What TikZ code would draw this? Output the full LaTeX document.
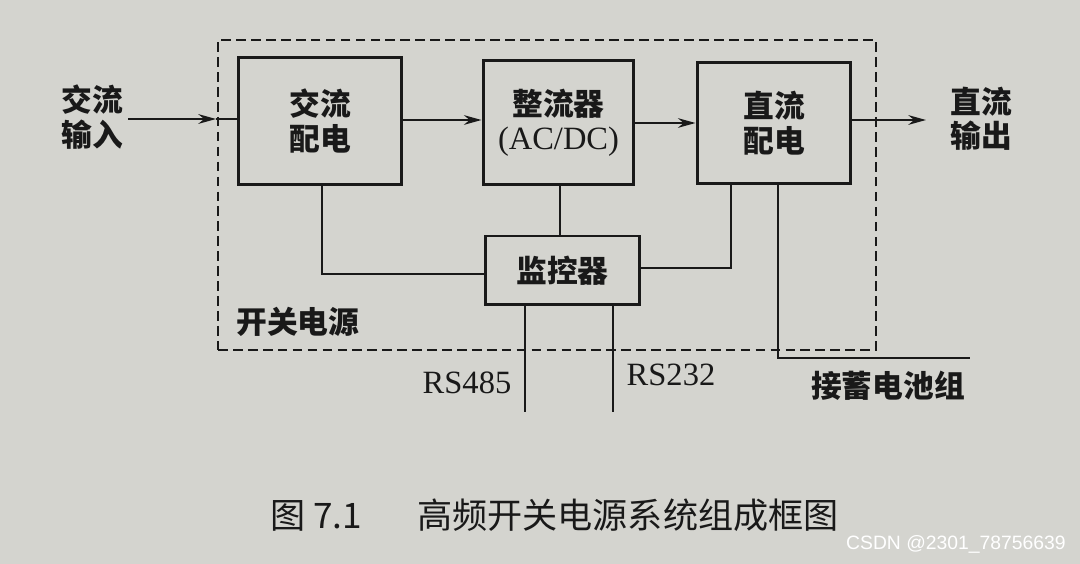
\documentclass[tikz,border=0pt]{standalone}
\usepackage{fontspec}
\setmainfont{Liberation Serif}
\newfontfamily\cjk{Noto Sans CJK SC}
\newfontfamily\wmfont{Liberation Sans}
\usetikzlibrary{arrows.meta}
\definecolor{paper}{RGB}{212,212,207}
\definecolor{ink}{RGB}{25,25,25}
\begin{document}
\begin{tikzpicture}[x=0.02cm,y=-0.02cm,
  blk/.style={draw=ink, line width=1.7pt, inner sep=0pt, align=center,
    font=\cjk\bfseries\fontsize{17.5pt}{19.6pt}\selectfont, text=ink},
  lbl/.style={inner sep=0pt, align=center,
    font=\cjk\bfseries\fontsize{17.5pt}{19.6pt}\selectfont, text=ink},
  lat/.style={inner sep=0pt, font=\fontsize{18.5pt}{20pt}\selectfont, text=ink},
  dashbox/.style={draw=ink, line width=1.1pt, dash pattern=on 5.5pt off 3pt, inner sep=0pt},
  wire/.style={draw=ink, line width=1.2pt},
  arr/.style={wire, -{Stealth[length=10pt,width=5.5pt]}}]
\useasboundingbox (0,0) rectangle (1080,564);
\fill[paper] (0,0) rectangle (1080,564);

% dashed enclosure
\node[dashbox, minimum width=13.16cm, minimum height=6.2cm] (sw) at (547,195) {};
\node[lbl, anchor=west] (swl) at (236,322) {开关电源};

% blocks
\node[blk, minimum width=3.28cm, minimum height=2.56cm] (acpd) at (320,121) {交流\\配电};
\node[blk, minimum width=3.02cm, minimum height=2.5cm] (rect) at (558.5,122.5)
  {整流器\\{\fontspec{Liberation Serif}\mdseries\fontsize{18.5pt}{20pt}\selectfont (AC/DC)}};
\node[blk, minimum width=3.08cm, minimum height=2.44cm] (dcpd) at (774,123) {直流\\配电};
\node[blk, minimum width=3.1cm, minimum height=1.38cm] (mon) at (562.5,270.5) {监控器};

% outside labels
\node[lbl] (acin) at (92,117) {交流\\输入};
\node[lbl] (dcout) at (981,119) {直流\\输出};
\node[lat] (rs485) at (467,383) {RS485};
\node[lat] (rs232) at (671,375) {RS232};
\node[lbl] (batt) at (888,386) {接蓄电池组};

% coordinates for free ends
\coordinate (inedge) at (216,119);
\coordinate (outend) at (926,120);
\coordinate (bt) at (970,358);
\coordinate (p485) at (525,412);
\coordinate (p232) at (613,412);

% main flow
\draw[arr] ([xshift=0.1cm]acin.east |- inedge) -- (inedge);
\draw[wire] (inedge) -- (acpd.west |- inedge);
\draw[arr] (acpd.east |- 0,120) -- (rect.west |- 0,120);
\draw[arr] (rect.east |- 0,123) -- (dcpd.west |- 0,123);
\draw[arr] (dcpd.east |- outend) -- (outend);

% monitor connections
\draw[wire] ([xshift=0.04cm]acpd.south) |- (mon.west |- 0,274);
\draw[wire] ([xshift=0.03cm]rect.south) -- ([xshift=0.03cm]rect.south |- mon.north);
\draw[wire] ([xshift=-0.86cm]dcpd.south) |- (mon.east |- 0,268);
\draw[wire] ([xshift=0.08cm]dcpd.south) |- (bt);
\draw[wire] (p485 |- mon.south) -- (p485);
\draw[wire] (p232 |- mon.south) -- (p232);

% caption
\node[inner sep=0pt, text=ink, font=\cjk\fontsize{20pt}{22pt}\selectfont, anchor=west] (cap) at (270,515)
  {图 7.1\hspace{1.1cm}高频开关电源系统组成框图};
\node[inner sep=0pt, text=white, font=\wmfont\fontsize{11pt}{12pt}\selectfont, anchor=east] (wm) at (1066,544)
  {CSDN @2301\_78756639};
\end{tikzpicture}
\end{document}
